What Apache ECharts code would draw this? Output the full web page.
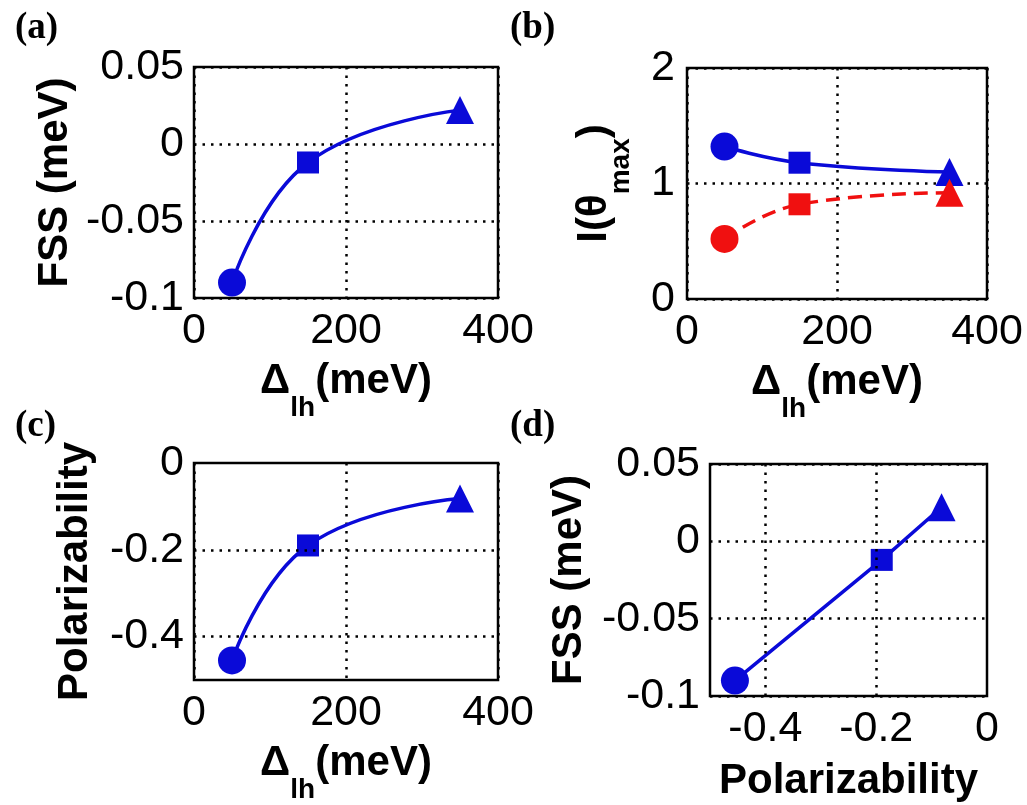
<!DOCTYPE html>
<html>
<head>
<meta charset="UTF-8">
<title>chart</title>
<script src="https://cdn.jsdelivr.net/npm/echarts@6/dist/echarts.min.js"></script>
<style>
  html, body { margin: 0; padding: 0; background: #fff; }
  #main { width: 1027px; height: 805px; }
</style>
</head>
<body>
<div id="main"></div>
<script>
// data
const deltaLH = [50, 150, 350]           // Δlh (meV)
const fss = [-0.09, -0.012, 0.022]       // FSS (meV)
const intensityBlue = [1.32, 1.18, 1.1]  // I(θmax), solid blue
const intensityRed = [0.52, 0.82, 0.92]  // I(θmax), dashed red
const polar = [-0.455, -0.19, -0.082]    // polarizability
const markers = ['circle', 'rect', 'triangle']
const markerSizes = [28, 22, 28]

// tick labels
const xTicksDelta = [0, 200, 400]
const yTicksFss = [-0.1, -0.05, 0, 0.05]
const yTicksI = [0, 1, 2]
const yTicksPol = [-0.4, -0.2, 0]
const xTicksPol = [-0.4, -0.2, 0]

const BLUE = '#0a0ad8'
const RED = '#f01010'
const tickFont = 'Liberation Sans, Arial, sans-serif'

function pts(xs, ys) {
  return xs.map((x, i) => ({ value: [x, ys[i]], symbol: markers[i], symbolSize: markerSizes[i] }))
}
function onlyTicks(ticks) {
  return v => (ticks.some(t => Math.abs(t - v) < 1e-9) ? String(Math.round(v * 100) / 100) : '')
}

const grids = [
  { left: 194, top: 67, width: 304, height: 231 },
  { left: 687, top: 68, width: 300, height: 231 },
  { left: 194, top: 463, width: 304, height: 231 },
  { left: 710, top: 464, width: 277, height: 232 }
].map(g => Object.assign(g, { show: true, borderColor: '#000', borderWidth: 2.5, backgroundColor: 'transparent' }))

const dotted = { color: '#000', width: 2.5, type: [2.5, 6] }
const axisLabel = { color: '#000', fontSize: 43, fontFamily: tickFont }
const nameStyle = { color: '#000', fontSize: 42, fontWeight: 'bold', fontFamily: tickFont }
const richSub = {
  m: { fontSize: 42, fontWeight: 'bold', fontFamily: tickFont, lineHeight: 46, verticalAlign: 'top', color: '#000' },
  s: { fontSize: 28, fontWeight: 'bold', fontFamily: tickFont, lineHeight: 62, verticalAlign: 'bottom', color: '#000' }
}

function base(extra) {
  return Object.assign({
    axisLine: { show: false },
    axisTick: { show: false },
    nameLocation: 'middle',
    nameTextStyle: nameStyle
  }, extra)
}

const option = {
  animation: false,
  backgroundColor: '#fff',
  title: ['(a)', '(b)', '(c)', '(d)'].map((t, i) => ({
    text: t,
    left: i % 2 ? 505 : 10,
    top: i < 2 ? 5 : 403,
    textStyle: { fontFamily: 'Liberation Serif, Times New Roman, serif', fontWeight: 'bold', fontSize: 37, color: '#000' }
  })),
  grid: grids,
  xAxis: [
    base({ gridIndex: 0, type: 'value', min: 0, max: 400, interval: 200, axisLabel: Object.assign({ margin: 12 }, axisLabel),
      splitLine: { lineStyle: dotted }, name: '{m|Δ}{s|lh}{m|(meV)}', nameGap: 62, nameTextStyle: Object.assign({ rich: richSub }, nameStyle) }),
    base({ gridIndex: 1, type: 'value', min: 0, max: 400, interval: 200, axisLabel: Object.assign({ margin: 12 }, axisLabel),
      splitLine: { lineStyle: dotted }, name: '{m|Δ}{s|lh}{m|(meV)}', nameGap: 62, nameTextStyle: Object.assign({ rich: richSub }, nameStyle) }),
    base({ gridIndex: 2, type: 'value', min: 0, max: 400, interval: 200, axisLabel: Object.assign({ margin: 12 }, axisLabel),
      splitLine: { lineStyle: dotted }, name: '{m|Δ}{s|lh}{m|(meV)}', nameGap: 62, nameTextStyle: Object.assign({ rich: richSub }, nameStyle) }),
    base({ gridIndex: 3, type: 'value', min: -0.5, max: 0, interval: 0.1,
      axisLabel: Object.assign({ margin: 12, formatter: onlyTicks(xTicksPol), showMinLabel: true }, axisLabel),
      splitLine: { show: false }, name: 'Polarizability', nameGap: 64 })
  ],
  yAxis: [
    base({ gridIndex: 0, type: 'value', min: -0.1, max: 0.05, interval: 0.05, axisLabel: Object.assign({ margin: 10 }, axisLabel),
      splitLine: { lineStyle: dotted }, name: 'FSS (meV)', nameGap: 118 }),
    base({ gridIndex: 1, type: 'value', min: 0, max: 2, interval: 1, axisLabel: Object.assign({ margin: 12 }, axisLabel),
      splitLine: { lineStyle: dotted }, name: '{m|I(θ}{s|max}{m|)}', nameGap: 52, nameTextStyle: Object.assign({ rich: richSub }, nameStyle) }),
    base({ gridIndex: 2, type: 'value', min: -0.5, max: 0, interval: 0.1,
      axisLabel: Object.assign({ margin: 10, formatter: onlyTicks(yTicksPol) }, axisLabel),
      splitLine: { show: false }, name: 'Polarizability', nameGap: 98 }),
    base({ gridIndex: 3, type: 'value', min: -0.1, max: 0.05, interval: 0.05, axisLabel: Object.assign({ margin: 10 }, axisLabel),
      splitLine: { lineStyle: dotted }, name: 'FSS (meV)', nameGap: 120 })
  ],
  series: [
    { type: 'line', xAxisIndex: 0, yAxisIndex: 0, smooth: 0.45, data: pts(deltaLH, fss),
      lineStyle: { color: BLUE, width: 3.5 }, itemStyle: { color: BLUE } },
    { type: 'line', xAxisIndex: 1, yAxisIndex: 1, smooth: 0.45, data: pts(deltaLH, intensityBlue),
      lineStyle: { color: BLUE, width: 3.5 }, itemStyle: { color: BLUE } },
    { type: 'line', xAxisIndex: 1, yAxisIndex: 1, smooth: 0.45, data: pts(deltaLH, intensityRed),
      lineStyle: { color: RED, width: 3.5, type: [14, 8] }, itemStyle: { color: RED } },
    { type: 'line', xAxisIndex: 2, yAxisIndex: 2, smooth: 0.45, data: pts(deltaLH, polar),
      lineStyle: { color: BLUE, width: 3.5 }, itemStyle: { color: BLUE }, z: 3,
      markLine: { silent: true, symbol: 'none', label: { show: false }, lineStyle: dotted,
        data: yTicksPol.filter(t => t > -0.5 && t < 0).map(t => ({ yAxis: t })) } },
    { type: 'line', xAxisIndex: 3, yAxisIndex: 3, smooth: false, data: pts(polar, fss),
      lineStyle: { color: BLUE, width: 3.5 }, itemStyle: { color: BLUE }, z: 3,
      markLine: { silent: true, symbol: 'none', label: { show: false }, lineStyle: dotted,
        data: xTicksPol.filter(t => t > -0.5 && t < 0).map(t => ({ xAxis: t })) } }
  ]
}

const chart = echarts.init(document.getElementById('main'))
chart.setOption(option)
</script>
</body>
</html>
